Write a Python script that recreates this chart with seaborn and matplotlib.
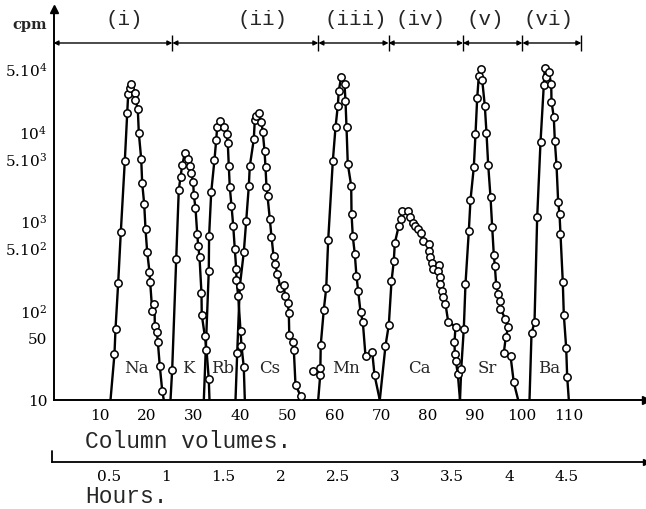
import matplotlib
matplotlib.use('Agg')
import matplotlib.pyplot as plt
import seaborn as sns
from matplotlib.ticker import NullLocator

sns.set_style('white')
plt.rcParams['font.family'] = ['DejaVu Serif']
plt.rcParams['mathtext.fontset'] = 'dejavuserif'

# elution peaks: column volumes / cpm (first and last value = where the trace meets the baseline)
na_cv = [12.18, 13.03, 13.25, 13.82, 14.38, 15.24, 15.75, 15.96, 16.30, 16.52, 17.37, 17.52, 18.01, 18.23,
         18.74, 18.95, 19.38, 19.66, 20.02, 20.51, 20.66, 21.09, 21.58, 21.65, 22.10, 22.30, 22.71, 23.23, 23.57]
na_cpm = [10, 32.6, 62, 201, 741, 4660, 15700, 25800, 29900, 33300, 26500, 22300, 17500, 9480,
          4860, 2620, 1530, 806, 444, 269, 205, 99, 118, 67, 57, 44, 24, 12.7, 10]

k_cv = [25.0, 25.36, 26.22, 26.77, 27.14, 27.50, 28.06, 28.78, 29.12, 29.42, 29.85, 29.98, 30.34, 30.71,
        30.92, 31.20, 31.62, 31.68, 32.33, 32.69, 33.18, 33.33]
k_cpm = [10, 21.8, 373, 2210, 3040, 4170, 5620, 4860, 4030, 3400, 2670, 1930, 1380, 710,
         525, 390, 155, 88.7, 52, 36.4, 17.1, 10]

rb_cv = [32.12, 33.18, 33.25, 33.70, 34.40, 34.77, 34.98, 35.68, 36.39, 36.97, 37.24, 37.46, 37.67, 38.03,
         38.40, 38.74, 39.04, 39.10, 39.47, 39.96, 40.17, 40.66, 40.88]
rb_cpm = [10, 276, 679, 2070, 4780, 7980, 11100, 13000, 11100, 9230, 7330, 4030, 2350, 1470,
          877, 482, 288, 219, 143, 59.3, 40.3, 23.2, 10]

cs_cv = [38.89, 39.25, 39.81, 40.66, 41.18, 41.73, 41.94, 42.80, 43.01, 43.31, 43.87, 44.44, 44.72, 45.09,
         45.30, 45.51, 45.73, 46.22, 46.58, 47.01, 47.33, 47.86, 48.50, 49.21, 49.47, 50.06, 50.28, 50.38,
         51.18, 51.35, 51.71, 52.78, 53.0]
cs_cpm = [10, 33.4, 185, 444, 997, 2410, 4030, 8060, 13300, 14700, 15700, 12500, 9640, 6010,
          3930, 2370, 1880, 1040, 661, 406, 328, 254, 177, 191, 146, 120, 93.3, 53.1,
          44.7, 36.4, 14.7, 11.2, 10]

mn_cv = [56.56, 57.0, 57.1, 57.76, 58.27, 58.70, 59.68, 60.26, 60.75, 60.96, 61.47, 62.18, 62.39, 62.61,
         62.88, 63.61, 63.68, 63.95, 64.38, 64.74, 65.11, 65.60, 66.09, 66.67, 68.10, 68.59, 69.72]
mn_cpm = [10, 19.2, 41, 102, 176, 612, 4580, 10960, 19100, 28100, 39600, 33400, 21700, 10960,
          4280, 2450, 1190, 668, 425, 239, 163, 96, 74.6, 30.7, 34.5, 19, 10]

ca_cv = [69.72, 70.94, 71.65, 72.22, 72.71, 72.93, 73.78, 74.30, 74.51, 75.79, 76.07, 76.77, 77.20, 77.84,
         78.63, 79.00, 80.34, 80.19, 80.41, 80.92, 81.13, 82.33, 82.12, 82.54, 82.69, 82.91, 83.18, 83.76,
         84.34, 85.90, 85.68, 85.75, 85.95, 86.39, 86.86]
ca_cpm = [10, 40.3, 69, 210, 352, 562, 877, 1040, 1270, 1290, 1090, 934, 864, 806,
          728, 587, 548, 461, 390, 334, 288, 320, 272, 233, 196, 165, 140, 117,
          74.6, 65.6, 44, 32.6, 27.4, 19.5, 10]

sr_cv = [86.86, 87.12, 87.67, 88.03, 88.74, 89.10, 89.81, 90.17, 90.53, 90.88, 91.24, 91.60, 92.16, 92.52,
         92.88, 93.38, 93.74, 94.08, 94.30, 94.59, 95.02, 95.36, 95.51, 96.58, 97.20, 96.65, 96.22, 97.65,
         98.35, 99.29]
sr_cpm = [10, 22.2, 62, 196, 760, 1700, 3930, 9230, 23000, 41300, 49000, 36900, 19100, 9480,
          4200, 1820, 842, 417, 314, 193, 152, 128, 103, 80, 64.6, 50.8, 33.4, 31.2,
          15.7, 10]

ba_cv = [101.71, 102.14, 102.78, 103.35, 104.06, 104.77, 104.98, 105.34, 105.83, 106.35, 106.41, 106.90,
         107.12, 107.48, 107.84, 108.12, 108.33, 108.82, 109.04, 109.55, 109.76, 110.11]
ba_cpm = [10, 55.5, 73.5, 1090, 7460, 32700, 50200, 39600, 45700, 33400, 21200, 14200,
          7780, 4170, 1600, 1190, 710, 208, 89.4, 38, 18.2, 10]

# two loose points left of the Mn peak
stray_cv = [55.42, 56.84]
stray_cpm = [21.2, 22.8]

elements = ['Na', 'K', 'Rb', 'Cs', 'Mn', 'Ca', 'Sr', 'Ba']
element_cv = [17.7, 28.8, 36.2, 46.2, 62.6, 78.2, 92.8, 105.8]

section_names = ['(i)', '(ii)', '(iii)', '(iv)', '(v)', '(vi)']
section_edges = [0, 25.4, 56.6, 71.6, 87.5, 100.2, 112.8]
section_label_cv = [15.2, 44.7, 64.5, 78.4, 92.3, 105.8]

cv_ticks = [10, 20, 30, 40, 50, 60, 70, 80, 90, 100, 110]
hour_ticks = [0.5, 1, 1.5, 2, 2.5, 3, 3.5, 4, 4.5]
hour_labels = ['0.5', '1', '1.5', '2', '2.5', '3', '3.5', '4', '4.5']
cpm_ticks = [10, 50, 100, 500, 1000, 5000, 10000, 50000]
cpm_labels = ['10', '50', r'10$^2$', r'5.10$^2$', r'10$^3$', r'5.10$^3$', r'10$^4$', r'5.10$^4$']

peaks = [(na_cv, na_cpm), (k_cv, k_cpm), (rb_cv, rb_cpm), (cs_cv, cs_cpm),
         (mn_cv, mn_cpm), (ca_cv, ca_cpm), (sr_cv, sr_cpm), (ba_cv, ba_cpm)]

W, H = 646, 510
fig = plt.figure(figsize=(W / 100, H / 100), dpi=100)
ax = fig.add_axes([53.5 / W, 109 / H, (W - 53.5) / W, 401 / H])
ax.patch.set_visible(False)
ax.set_yscale('log')
ax.set_xlim(0, (W - 53.5) / 4.68)
ax.set_ylim(10, 10 ** (1 + 401 / 89.7))

for cv, cpm in peaks:
    sns.lineplot(x=cv, y=cpm, ax=ax, color='black', lw=1.7, sort=False, estimator=None)
    sns.scatterplot(x=cv[1:-1], y=cpm[1:-1], ax=ax, s=28, color='white', edgecolor='black',
                    linewidth=1.1, zorder=3)
sns.scatterplot(x=stray_cv, y=stray_cpm, ax=ax, s=28, color='white', edgecolor='black',
                linewidth=1.1, zorder=3)

for name, x in zip(elements, element_cv):
    ax.text(x, 23, name, fontsize=12, ha='center', va='center')

# section bar along the top
ybar = 10 ** 4.98
for i in range(len(section_names)):
    ax.annotate('', xy=(section_edges[i + 1], ybar), xytext=(section_edges[i], ybar),
                arrowprops=dict(arrowstyle='<|-|>', color='black', lw=1.0, shrinkA=0, shrinkB=0,
                                mutation_scale=7),
                annotation_clip=False)
    ax.text(section_label_cv[i], 10 ** 5.25, section_names[i], family='Liberation Mono',
            fontsize=15, ha='center', va='center')
ax.vlines(section_edges[1:], 10 ** 4.89, 10 ** 5.07, color='black', lw=1.0)

# axes
for s in ['top', 'right']:
    ax.spines[s].set_visible(False)
ax.spines['left'].set_bounds(10, 10 ** 5.36)
ax.spines['left'].set_linewidth(1.4)
ax.spines['bottom'].set_linewidth(1.4)
ax.spines['left'].set_color('black')
ax.spines['bottom'].set_color('black')
ax.plot(1, 0, '>k', ms=6, transform=ax.transAxes, clip_on=False)
ax.plot(0, 10 ** 5.36, '^k', ms=6, transform=ax.get_yaxis_transform(), clip_on=False)

ax.set_xticks(cv_ticks)
ax.set_xticklabels([str(t) for t in cv_ticks])
ax.set_yticks(cpm_ticks)
ax.set_yticklabels(cpm_labels)
ax.yaxis.set_minor_locator(NullLocator())
ax.tick_params(axis='x', direction='in', length=7, width=1, pad=6, labelsize=11, colors='black')
ax.tick_params(axis='y', direction='inout', length=5, width=1, pad=2, labelsize=11, colors='black')
ax.set_xlabel('')
ax.set_ylabel('')
ax.grid(False)

fig.text(30 / W, 1 - 25 / H, 'cpm', fontsize=10.5, fontweight='bold', ha='center', va='center')
fig.text(85 / W, 1 - 441 / H, 'Column volumes.', family='Liberation Mono', fontsize=16.5,
         ha='left', va='center')
fig.text(85 / W, 1 - 497 / H, 'Hours.', family='Liberation Mono', fontsize=16.5,
         ha='left', va='center')

# hours axis
ax2 = fig.add_axes([52 / W, (H - 463) / H, (W - 52) / W, 12 / H])
ax2.patch.set_visible(False)
ax2.set_xlim(0, (W - 52) / 114.25)
ax2.set_ylim(0, 1)
for s in ['top', 'right', 'left']:
    ax2.spines[s].set_visible(False)
ax2.spines['bottom'].set_linewidth(1.3)
ax2.spines['bottom'].set_color('black')
ax2.set_yticks([])
ax2.set_xticks(hour_ticks)
ax2.set_xticklabels(hour_labels)
ax2.tick_params(axis='x', direction='in', length=6, width=1, pad=5, labelsize=11, colors='black')
ax2.plot([0, 0], [0, 0.9], color='black', lw=1.3, clip_on=False)
ax2.plot(1, 0, '>k', ms=5, transform=ax2.transAxes, clip_on=False)

fig.savefig('out.png', dpi=100)
